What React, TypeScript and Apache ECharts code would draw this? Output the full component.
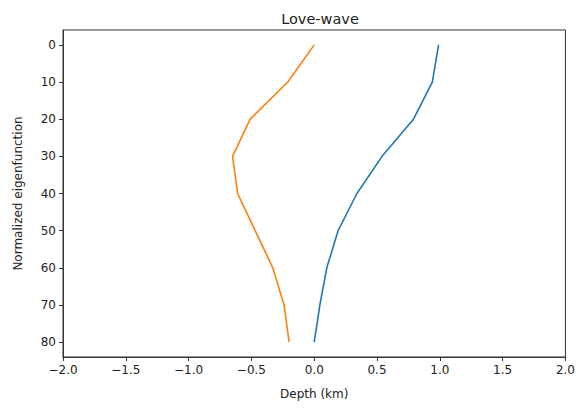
import React, { useEffect, useRef } from "react";
import * as echarts from "echarts";

const depths = [0, 10, 20, 30, 40, 50, 60, 70, 80];
const blueValues = [0.99, 0.94, 0.79, 0.54, 0.34, 0.19, 0.1, 0.045, 0.0];
const orangeValues = [0.0, -0.21, -0.51, -0.65, -0.61, -0.47, -0.33, -0.24, -0.2];
const xTicks = [-2, -1.5, -1, -0.5, 0, 0.5, 1, 1.5, 2];
const yTicks = [0, 10, 20, 30, 40, 50, 60, 70, 80];

const FONT = "DejaVu Sans";
const TXT = "#222";

function fmtX(v: number) {
  const s = Math.abs(v).toFixed(1);
  return v < 0 ? "\u2212" + s : s;
}

export default function App() {
  const ref = useRef<HTMLDivElement>(null);
  useEffect(() => {
    if (!ref.current) return;
    const chart = echarts.init(ref.current, undefined, { renderer: "svg" });
    chart.setOption({
      animation: false,
      backgroundColor: "#fff",
      title: {
        text: "Love-wave",
        left: 315,
        textAlign: "center",
        top: 6,
        textStyle: { fontFamily: FONT, fontSize: 14.5, fontWeight: "normal", color: TXT },
      },
      grid: {
        left: 63,
        right: 11,
        top: 30,
        bottom: 52,
        show: true,
        borderColor: "#333",
        borderWidth: 1,
        backgroundColor: "transparent",
      },
      xAxis: {
        type: "value",
        min: -2,
        max: 2,
        interval: 0.5,
        name: "Depth (km)",
        nameLocation: "middle",
        nameGap: 31,
        nameTextStyle: { fontFamily: FONT, fontSize: 12, color: TXT },
        axisLine: { show: true, onZero: false, lineStyle: { color: "#333", width: 1 } },
        axisTick: { show: true, length: 4, lineStyle: { color: "#333" } },
        axisLabel: {
          fontFamily: FONT,
          fontSize: 12,
          color: TXT,
          margin: 7,
          formatter: (v: number) => fmtX(v),
        },
        splitLine: { show: false },
      },
      yAxis: {
        type: "value",
        inverse: true,
        min: -4,
        max: 84,
        name: "Normalized eigenfunction",
        nameLocation: "middle",
        nameGap: 39,
        nameRotate: 90,
        nameTextStyle: { fontFamily: FONT, fontSize: 12, color: TXT },
        axisLine: { show: true, onZero: false, lineStyle: { color: "#333", width: 1 } },
        axisTick: { show: true, length: 4, customValues: yTicks, lineStyle: { color: "#333" } },
        axisLabel: {
          fontFamily: FONT,
          fontSize: 12,
          color: TXT,
          margin: 7,
          customValues: yTicks,
        },
        splitLine: { show: false },
      },
      series: [
        {
          type: "line",
          data: depths.map((d, i) => [blueValues[i], d]),
          showSymbol: false,
          symbol: "none",
          lineStyle: { color: "#1f77b4", width: 1.6 },
          itemStyle: { color: "#1f77b4" },
        },
        {
          type: "line",
          data: depths.map((d, i) => [orangeValues[i], d]),
          showSymbol: false,
          symbol: "none",
          lineStyle: { color: "#ff7f0e", width: 1.6 },
          itemStyle: { color: "#ff7f0e" },
        },
      ],
    });
    return () => chart.dispose();
  }, []);
  return <div ref={ref} style={{ width: 578, height: 409, position: "absolute", left: 0, top: 0 }} />;
}
